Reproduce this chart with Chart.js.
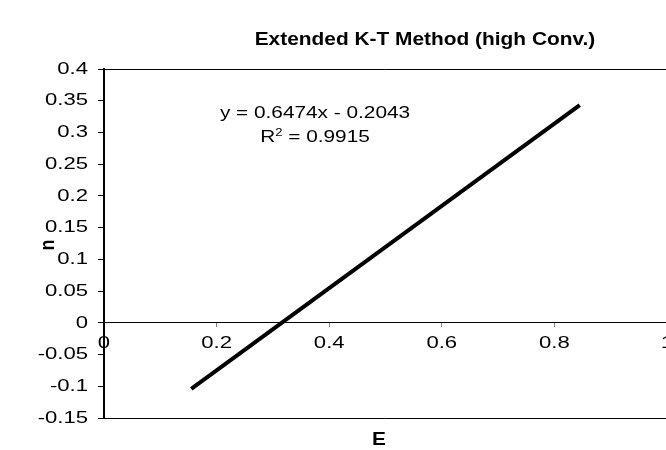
<!DOCTYPE html>
<html>
<head>
<meta charset="utf-8">
<script src="https://cdn.jsdelivr.net/npm/chart.js"></script>
<style>
  html, body { margin: 0; padding: 0; background: #fff; overflow: hidden; }
  #wrap { width: 666px; height: 450px; overflow: hidden; }
</style>
</head>
<body>
<div id="wrap"><canvas id="chart" width="670" height="450"></canvas></div>
<script>
// values
const titleText = 'Extended K-T Method (high Conv.)';
const xTitle = 'E';
const yTitle = 'n';
const eValues = [0.155, 0.845];
const nValues = [-0.104, 0.343];
const equationText = 'y = 0.6474x - 0.2043';
const r2Value = '0.9915';
const xRange = [0, 1, 0.2];
const yRange = [-0.15, 0.4, 0.05];

// the original picture is stretched sideways, so text is too
const SX = 1.3;
const FONT = '"Liberation Sans", Arial, sans-serif';

const points = eValues.map((e, i) => ({ x: e, y: nValues[i] }));

const fmt = (v) => String(+v.toFixed(2));

/**
 * draw a row of text runs, stretched sideways by sx
 */
const drawRuns = (ctx, runs, x, y, align, sx = SX) => {
    let total = 0;
    runs.forEach(r => {
        ctx.font = r.font;
        r.w = ctx.measureText(r.text).width * sx;
        total += r.w;
    });
    let start = x;
    if (align === 'center') start = x - total / 2;
    if (align === 'right') start = x - total;
    runs.forEach(r => {
        ctx.save();
        ctx.font = r.font;
        ctx.textAlign = 'left';
        ctx.textBaseline = 'middle';
        ctx.fillStyle = '#000';
        ctx.translate(start, y + (r.dy || 0));
        ctx.scale(sx, 1);
        ctx.fillText(r.text, 0, 0);
        ctx.restore();
        start += r.w;
    });
};

const textPlugin = {
    id: 'excelText',
    afterDraw(chart) {
        const { ctx, chartArea, scales } = chart;

        // plot area box
        ctx.save();
        ctx.strokeStyle = '#000';
        ctx.lineWidth = 1;
        ctx.beginPath();
        ctx.moveTo(chartArea.left, chartArea.top + 0.5);
        ctx.lineTo(chartArea.right, chartArea.top + 0.5);
        ctx.moveTo(chartArea.left, chartArea.bottom + 0.5);
        ctx.lineTo(chartArea.right, chartArea.bottom + 0.5);
        ctx.stroke();
        ctx.lineWidth = 2;
        ctx.beginPath();
        ctx.moveTo(chartArea.right, chartArea.top);
        ctx.lineTo(chartArea.right, chartArea.bottom + 1);
        ctx.stroke();
        ctx.restore();

        const tickFont = '17px ' + FONT;

        // y tick labels
        scales.y.ticks.forEach(t => {
            const py = scales.y.getPixelForValue(t.value);
            drawRuns(ctx, [{ text: fmt(t.value), font: tickFont }], scales.y.right - 16, py, 'right');
        });

        // x tick labels, under the zero line
        const zeroY = scales.y.getPixelForValue(0);
        scales.x.ticks.forEach(t => {
            const px = scales.x.getPixelForValue(t.value);
            drawRuns(ctx, [{ text: fmt(t.value), font: tickFont }], px, zeroY + 20, 'center');
        });

        // title
        drawRuns(ctx, [{ text: titleText, font: 'bold 18px ' + FONT }], 425, 40, 'center', 1.16);

        // axis titles
        drawRuns(ctx, [{ text: xTitle, font: 'bold 18px ' + FONT }], 379, 440, 'center', 1.16);
        ctx.save();
        ctx.translate(48, 245);
        ctx.rotate(-Math.PI / 2);
        ctx.font = 'bold 18px ' + FONT;
        ctx.textAlign = 'center';
        ctx.textBaseline = 'middle';
        ctx.fillStyle = '#000';
        ctx.scale(1, 1.16);
        ctx.fillText(yTitle, 0, 0);
        ctx.restore();

        // trendline label
        const eqFont = '16px ' + FONT;
        drawRuns(ctx, [{ text: equationText, font: eqFont }], 315, 114, 'center');
        drawRuns(ctx, [
            { text: 'R', font: eqFont },
            { text: '2', font: '10px ' + FONT, dy: -5 },
            { text: ' = ' + r2Value, font: eqFont }
        ], 315, 138, 'center');
    }
};

new Chart(document.getElementById('chart'), {
    type: 'scatter',
    data: {
        datasets: [{
            data: points,
            showLine: true,
            borderColor: '#000',
            borderWidth: 4,
            pointRadius: 0,
            pointHoverRadius: 0,
            fill: false
        }]
    },
    options: {
        responsive: false,
        animation: false,
        devicePixelRatio: 1,
        events: [],
        layout: { padding: { left: 0, top: 69, right: 3, bottom: 32 } },
        plugins: {
            legend: { display: false },
            title: { display: false },
            tooltip: { enabled: false }
        },
        scales: {
            x: {
                type: 'linear',
                position: { y: 0 },
                min: xRange[0],
                max: xRange[1],
                ticks: { stepSize: xRange[2], display: false },
                grid: {
                    drawOnChartArea: false,
                    drawTicks: true,
                    tickLength: 4,
                    color: '#808080'
                },
                border: { display: true, color: '#000', width: 1 }
            },
            y: {
                type: 'linear',
                min: yRange[0],
                max: yRange[1],
                ticks: { stepSize: yRange[2], display: false },
                grid: {
                    drawOnChartArea: false,
                    drawTicks: true,
                    tickLength: 6,
                    color: '#000'
                },
                border: { display: true, color: '#000', width: 2 },
                afterFit(scale) {
                    scale.width = 104;
                }
            }
        }
    },
    plugins: [textPlugin]
});
</script>
</body>
</html>
